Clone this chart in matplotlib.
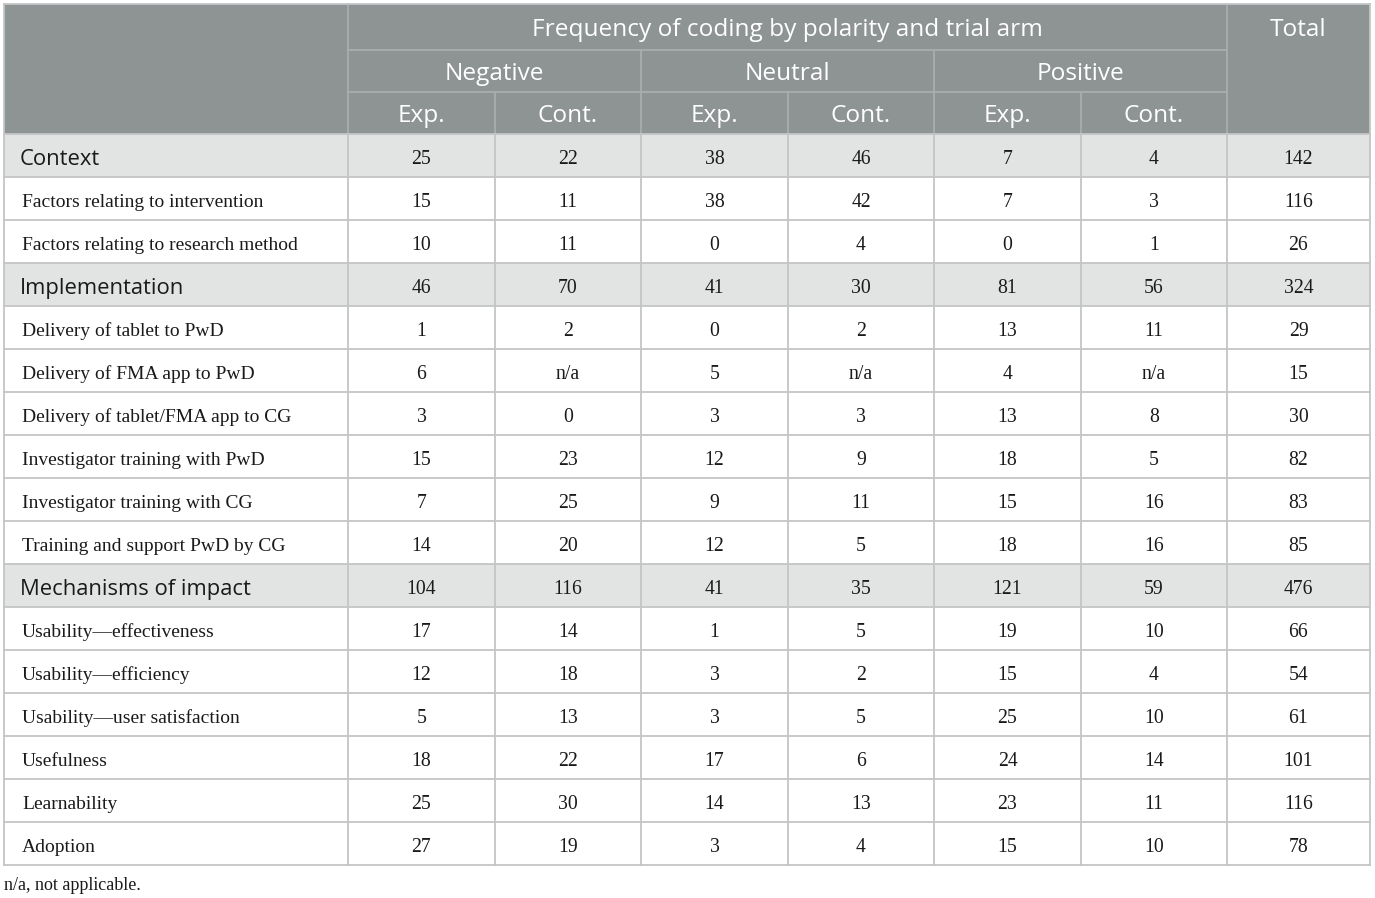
import matplotlib
matplotlib.use("Agg")
import matplotlib.pyplot as plt
from matplotlib.patches import Rectangle

# ---------------- data ----------------
top_header = "Frequency of coding by polarity and trial arm"
total_header = "Total"
polarities = ["Negative", "Neutral", "Positive"]
arms = ["Exp.", "Cont."]

row_labels = [
    "Context",
    "Factors relating to intervention",
    "Factors relating to research method",
    "Implementation",
    "Delivery of tablet to PwD",
    "Delivery of FMA app to PwD",
    "Delivery of tablet/FMA app to CG",
    "Investigator training with PwD",
    "Investigator training with CG",
    "Training and support PwD by CG",
    "Mechanisms of impact",
    "Usability\u2014effectiveness",
    "Usability\u2014efficiency",
    "Usability\u2014user satisfaction",
    "Usefulness",
    "Learnability",
    "Adoption",
]
section_rows = ["Context", "Implementation", "Mechanisms of impact"]

neg_exp = ["25", "15", "10", "46", "1", "6", "3", "15", "7", "14", "104", "17", "12", "5", "18", "25", "27"]
neg_cont = ["22", "11", "11", "70", "2", "n/a", "0", "23", "25", "20", "116", "14", "18", "13", "22", "30", "19"]
neu_exp = ["38", "38", "0", "41", "0", "5", "3", "12", "9", "12", "41", "1", "3", "3", "17", "14", "3"]
neu_cont = ["46", "42", "4", "30", "2", "n/a", "3", "9", "11", "5", "35", "5", "2", "5", "6", "13", "4"]
pos_exp = ["7", "7", "0", "81", "13", "4", "13", "18", "15", "18", "121", "19", "15", "25", "24", "23", "15"]
pos_cont = ["4", "3", "1", "56", "11", "n/a", "8", "5", "16", "16", "59", "10", "4", "10", "14", "11", "10"]
totals = ["142", "116", "26", "324", "29", "15", "30", "82", "83", "85", "476", "66", "54", "61", "101", "116", "78"]

footnote = "n/a, not applicable."

# ---------------- layout ----------------
W, H = 1375, 898
col_x = [4, 348, 495, 641, 788, 934, 1081, 1227, 1370]
hdr_y = [4, 50, 92, 134]
row_h = 43
body_top = 134

HEADER_BG = "#8e9394"
HEADER_LINE = "#a9adae"
SECTION_BG = "#e2e3e3"
GRID = "#c4c6c6"

sans = ["Open Sans", "DejaVu Sans"]
serif = ["Liberation Serif", "DejaVu Serif"]

fig = plt.figure(figsize=(W / 100, H / 100), dpi=100)
ax = fig.add_axes([0, 0, 1, 1])
ax.set_xlim(0, W)
ax.set_ylim(H, 0)
ax.axis("off")

n_rows = len(row_labels)
body_bottom = body_top + row_h * n_rows

# header background
ax.add_patch(Rectangle((col_x[0], hdr_y[0]), col_x[-1] - col_x[0], hdr_y[3] - hdr_y[0],
                       facecolor=HEADER_BG, edgecolor="none", zorder=1))

# section backgrounds
for i, lab in enumerate(row_labels):
    if lab in section_rows:
        y0 = body_top + i * row_h
        ax.add_patch(Rectangle((col_x[0], y0), col_x[-1] - col_x[0], row_h,
                               facecolor=SECTION_BG, edgecolor="none", zorder=1))

lw = 1.3
# header internal lines
ax.plot([col_x[1], col_x[7]], [hdr_y[1], hdr_y[1]], color=HEADER_LINE, lw=lw, zorder=2)
ax.plot([col_x[1], col_x[7]], [hdr_y[2], hdr_y[2]], color=HEADER_LINE, lw=lw, zorder=2)
ax.plot([col_x[1], col_x[1]], [hdr_y[0], hdr_y[3]], color=HEADER_LINE, lw=lw, zorder=2)
ax.plot([col_x[7], col_x[7]], [hdr_y[0], hdr_y[3]], color=HEADER_LINE, lw=lw, zorder=2)
for k in (3, 5):
    ax.plot([col_x[k], col_x[k]], [hdr_y[1], hdr_y[3]], color=HEADER_LINE, lw=lw, zorder=2)
for k in (2, 4, 6):
    ax.plot([col_x[k], col_x[k]], [hdr_y[2], hdr_y[3]], color=HEADER_LINE, lw=lw, zorder=2)

# body grid
for i in range(n_rows + 1):
    y = body_top + i * row_h
    ax.plot([col_x[0], col_x[-1]], [y, y], color=GRID, lw=lw, zorder=2)
for x in col_x:
    ax.plot([x, x], [body_top, body_bottom], color=GRID, lw=lw, zorder=2)
# outer border of header
ax.plot([col_x[0], col_x[-1]], [hdr_y[0], hdr_y[0]], color=GRID, lw=lw, zorder=2)
ax.plot([col_x[0], col_x[0]], [hdr_y[0], hdr_y[3]], color=GRID, lw=lw, zorder=2)
ax.plot([col_x[-1], col_x[-1]], [hdr_y[0], hdr_y[3]], color=GRID, lw=lw, zorder=2)

# header text
hfs = 17.6
dy_h = 3.5
ax.text((col_x[1] + col_x[7]) / 2, (hdr_y[0] + hdr_y[1]) / 2 + dy_h, top_header, color="white",
        family=sans, fontsize=hfs, ha="center", va="center", zorder=3)
ax.text((col_x[7] + col_x[8]) / 2, (hdr_y[0] + hdr_y[1]) / 2 + dy_h, total_header, color="white",
        family=sans, fontsize=hfs, ha="center", va="center", zorder=3)
for p, name in enumerate(polarities):
    xa, xb = col_x[1 + 2 * p], col_x[3 + 2 * p]
    ax.text((xa + xb) / 2, (hdr_y[1] + hdr_y[2]) / 2 + dy_h, name, color="white",
            family=sans, fontsize=hfs, ha="center", va="center", zorder=3)
    for a, arm in enumerate(arms):
        c = 1 + 2 * p + a
        ax.text((col_x[c] + col_x[c + 1]) / 2, (hdr_y[2] + hdr_y[3]) / 2 + dy_h, arm, color="white",
                family=sans, fontsize=hfs, ha="center", va="center", zorder=3)

# body text
columns = [neg_exp, neg_cont, neu_exp, neu_cont, pos_exp, pos_cont, totals]
for i, lab in enumerate(row_labels):
    yc = body_top + i * row_h + row_h / 2
    if lab in section_rows:
        ax.text(20, yc + 4, lab, family=sans, fontsize=15.8, color="#1a1a1a",
                ha="left", va="center", zorder=3)
    else:
        ax.text(22, yc + 4, lab, family=serif, fontsize=14, color="#1a1a1a",
                ha="left", va="center", zorder=3)
    for c, col in enumerate(columns):
        ax.text((col_x[c + 1] + col_x[c + 2]) / 2, yc + 4, col[i], family=serif, fontsize=14.2,
                color="#1a1a1a", ha="center", va="center", zorder=3)

ax.text(4, 885, footnote, family=serif, fontsize=13, color="#1a1a1a", ha="left", va="center")

fig.savefig("out.png", dpi=100)
